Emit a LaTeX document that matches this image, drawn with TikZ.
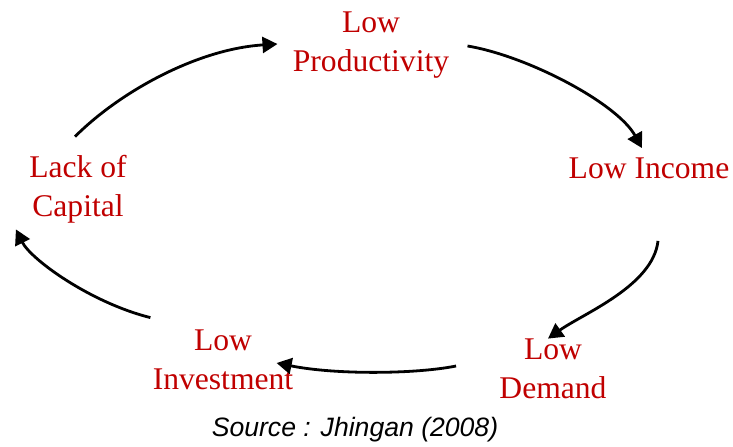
\documentclass[tikz,border=0pt]{standalone}
\usepackage{fontspec}
\setmainfont{Liberation Serif}
\setsansfont{Liberation Sans}
\usetikzlibrary{arrows.meta}
\definecolor{lowred}{RGB}{192,0,0}

\begin{document}
\begin{tikzpicture}[x=0.5pt,y=-0.5pt,
  lbl/.style={inner sep=0pt,align=center,text=lowred,font=\fontsize{15.8}{19.5}\selectfont},
  arr/.style={line width=1.4pt,-{Triangle[length=7.5pt,width=8pt]}}]
\useasboundingbox (0,0) rectangle (733,446);
\node [lbl] (prod) at (371,45) {Low\\Productivity};
\node [lbl] (inc) at (649,168) {Low Income};
\node [lbl] (dem) at (553,369) {Low\\Demand};
\node [lbl] (inv) at (223,360) {Low\\Investment};
\node [lbl] (cap) at (78,189) {Lack of\\Capital};
\node [font=\sffamily\itshape\fontsize{13.3}{16}\selectfont] (src) at (355,430) {Source : Jhingan (2008)};

\draw [arr] ([shift={(-3,-18)}]cap.north) .. controls +(45,-45) and +(-80,5) .. ([shift={(-15,-1)}]prod.west);
\draw [arr] ([shift={(18,1)}]prod.east) .. controls +(60,10) and +(-25,-45) .. ([shift={(-7,-9)}]inc.north);
\draw [arr] ([shift={(9,62)}]inc.south) .. controls +(-5,45) and +(35,-25) .. ([shift={(-5,0)}]dem.north);
\draw [arr] ([shift={(-43,-3)}]dem.west) .. controls +(-40,8) and +(60,12) .. ([shift={(-17,3)}]inv.east);
\draw [arr] ([shift={(-2,-12)}]inv.north west) .. controls +(-60,-15) and +(15,30) .. ([shift={(-13,6)}]cap.south west);
\end{tikzpicture}
\end{document}
